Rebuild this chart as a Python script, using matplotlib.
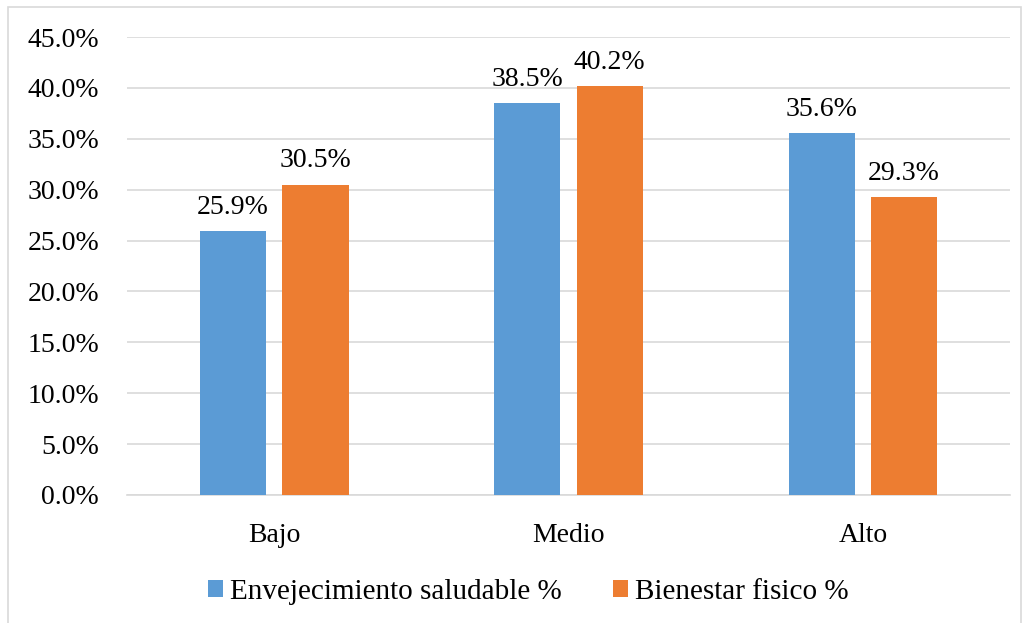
import matplotlib
matplotlib.use("Agg")
import matplotlib.pyplot as plt
from matplotlib.patches import Rectangle
import numpy as np

categories = ["Bajo", "Medio", "Alto"]
envejecimiento = [25.9, 38.5, 35.6]
bienestar = [30.5, 40.2, 29.3]
series_names = ["Envejecimiento saludable %", "Bienestar fisico %"]
yticks = [0, 5, 10, 15, 20, 25, 30, 35, 40, 45]

plt.rcParams["font.family"] = ["Liberation Serif", "DejaVu Serif"]

BLUE = "#5B9BD5"
ORANGE = "#ED7D31"
GRID = "#D9D9D9"
FS = 20

fig = plt.figure(figsize=(10.36, 6.23), dpi=100)
ax = fig.add_axes([0.1226, 0.2055, 0.8524, 0.7351])

x = np.arange(len(categories))
w = 0.225
off = 0.14
b1 = ax.bar(x - off, envejecimiento, w, color=BLUE, label=series_names[0], zorder=3)
b2 = ax.bar(x + off, bienestar, w, color=ORANGE, label=series_names[1], zorder=3)

for bars, vals in ((b1, envejecimiento), (b2, bienestar)):
    for rect, v in zip(bars, vals):
        ax.annotate(f"{v:.1f}%", (rect.get_x() + rect.get_width() / 2, v),
                    xytext=(0, 8), textcoords="offset points",
                    ha="center", va="bottom", fontsize=FS, color="#000000")

ax.set_xlim(-0.5, 2.5)
ax.set_ylim(0, 45)
ax.set_yticks(yticks)
ax.set_yticklabels([f"{t:.1f}%" for t in yticks], fontsize=FS)
ax.set_xticks(x)
ax.set_xticklabels(categories, fontsize=FS)
ax.tick_params(axis="both", length=0)
ax.tick_params(axis="y", pad=20)
ax.tick_params(axis="x", pad=20)
ax.yaxis.grid(True, color=GRID, linewidth=1.2, zorder=0)
for s in ("top", "right", "left"):
    ax.spines[s].set_visible(False)
ax.spines["bottom"].set_color(GRID)
ax.spines["bottom"].set_linewidth(1.2)

leg = fig.legend(handles=[b1, b2], labels=series_names, loc="center",
                 bbox_to_anchor=(0.510, 0.050), ncol=2, frameon=False,
                 fontsize=21, handlelength=0.51, handleheight=0.51,
                 handletextpad=0.24, columnspacing=1.75)

fig.patches.append(Rectangle((0.0075, -0.02), 0.978, 1.0085, transform=fig.transFigure,
                             fill=False, edgecolor="#D9D9D9", linewidth=1.2))

fig.savefig("out.png", dpi=100, facecolor="white")
